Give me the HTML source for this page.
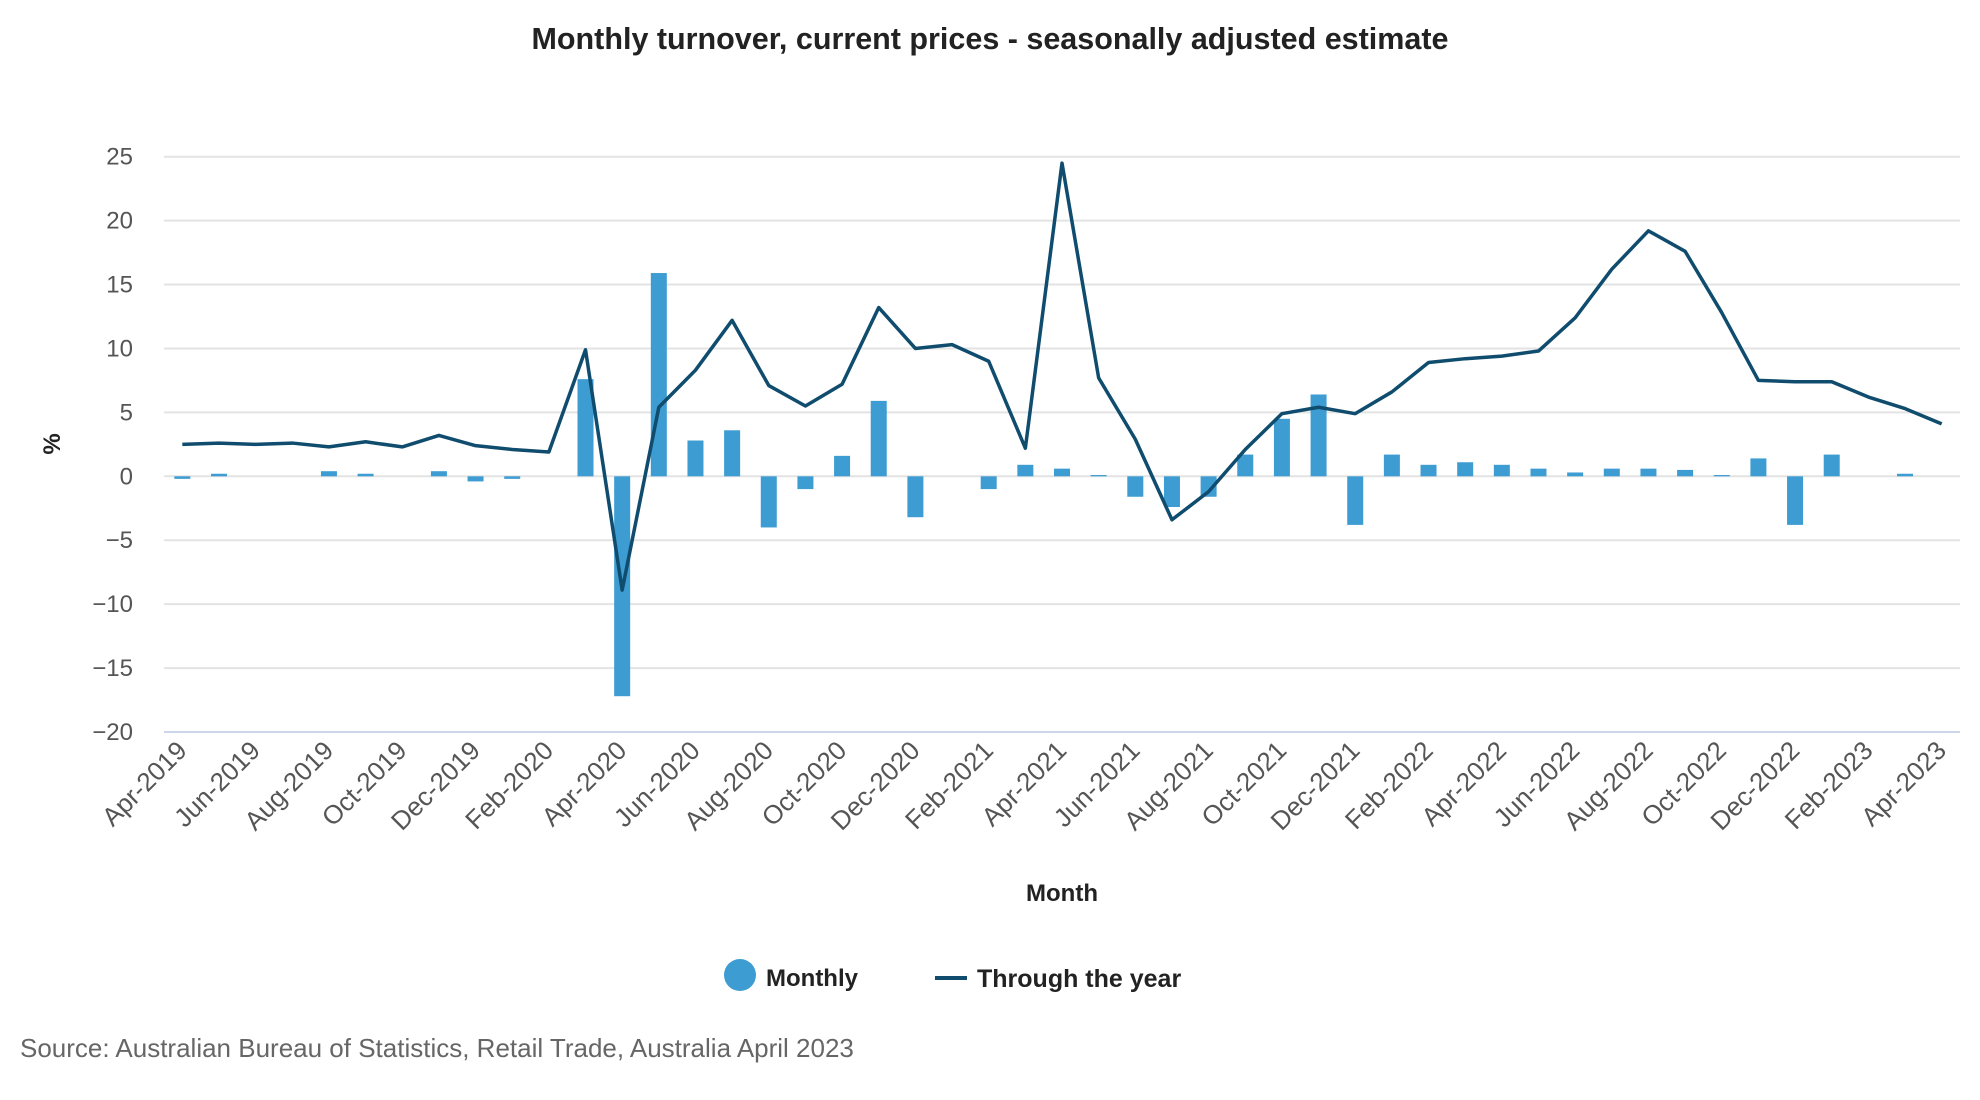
<!DOCTYPE html>
<html><head><meta charset="utf-8"><style>
body{margin:0;background:#fff;}
svg{display:block;font-family:"Liberation Sans",sans-serif;}
</style></head><body>
<svg id="chart" width="1980" height="1100" viewBox="0 0 1980 1100" xmlns="http://www.w3.org/2000/svg">
<text x="990" y="49" text-anchor="middle" font-size="30.5" font-weight="bold" fill="#222">Monthly turnover, current prices - seasonally adjusted estimate</text>
<g id="grid"></g><g id="bars"></g><g id="line"></g><g id="yticks"></g><g id="xticks"></g>
<text transform="translate(60,444) rotate(-90)" text-anchor="middle" font-size="24" font-weight="bold" fill="#222">%</text>
<text x="1062" y="901" text-anchor="middle" font-size="24" font-weight="bold" fill="#222">Month</text>
<g>
<g><circle cx="740" cy="975" r="16" fill="#3d9cd2"/><text x="766" y="986" font-size="24" font-weight="bold" fill="#222">Monthly</text></g>
<g><line x1="935" y1="978" x2="967" y2="978" stroke="#0f4c6e" stroke-width="4"/><text x="977" y="987" font-size="25" font-weight="bold" fill="#222">Through the year</text></g>
</g>
<text x="20" y="1057" font-size="26" fill="#666">Source: Australian Bureau of Statistics, Retail Trade, Australia April 2023</text>
</svg>
<script>
const categories=[];
for(let i=0;i<49;i++){const m=(3+i)%12;const y=2019+Math.floor((3+i)/12);categories.push(["Jan","Feb","Mar","Apr","May","Jun","Jul","Aug","Sep","Oct","Nov","Dec"][m]+"-"+y);}
const monthly=[-0.2,0.2,0,0,0.4,0.2,0,0.4,-0.4,-0.2,0,7.6,-17.2,15.9,2.8,3.6,-4.0,-1.0,1.6,5.9,-3.2,0,-1.0,0.9,0.6,0.1,-1.6,-2.4,-1.6,1.7,4.5,6.4,-3.8,1.7,0.9,1.1,0.9,0.6,0.3,0.6,0.6,0.5,0.1,1.4,-3.8,1.7,0,0.2,0];
const throughYear=[2.5,2.6,2.5,2.6,2.3,2.7,2.3,3.2,2.4,2.1,1.9,9.9,-8.9,5.4,8.3,12.2,7.1,5.5,7.2,13.2,10.0,10.3,9.0,2.2,24.5,7.7,2.9,-3.4,-1.2,2.1,4.9,5.4,4.9,6.6,8.9,9.2,9.4,9.8,12.4,16.2,19.2,17.6,12.8,7.5,7.4,7.4,6.2,5.3,4.1];
const yTicks=[25,20,15,10,5,0,-5,-10,-15,-20];
const NS="http://www.w3.org/2000/svg";
const L=164,R=1960,T=156.7,B=732,YMAX=25,YMIN=-20;
const band=(R-L)/categories.length;
const xs=i=>L+band*(i+0.5);
const ys=v=>T+(YMAX-v)*(B-T)/(YMAX-YMIN);
function mk(tag,attrs,parent){const e=document.createElementNS(NS,tag);for(const k in attrs)e.setAttribute(k,attrs[k]);document.getElementById(parent).appendChild(e);return e;}
yTicks.forEach(v=>{
  const g=mk("line",{x1:L,x2:R,y1:ys(v),y2:ys(v),stroke:v===YMIN?"#ccd6eb":"#e3e3e3","stroke-width":2},"grid");
  
  
  const t=mk("text",{x:133,y:ys(v)+8,"text-anchor":"end","font-size":24,fill:"#555"},"yticks");
  t.textContent=v<0?"\u2212"+Math.abs(v):String(v);
  
  
});
monthly.forEach((v,i)=>{
  const y0=ys(0),y1=ys(v);
  const r=mk("rect",{x:xs(i)-8,width:16,y:Math.min(y0,y1),height:Math.abs(y1-y0),fill:"#3d9cd2"},"bars");
  
  
});
const p=mk("polyline",{points:throughYear.map((v,i)=>xs(i)+","+ys(v)).join(" "),fill:"none",stroke:"#0f4c6e","stroke-width":3.5,"stroke-linejoin":"round"},"line");


categories.forEach((c,i)=>{
  if(i%2) return;
  const x=xs(i);
  const t=mk("text",{transform:"translate("+(x+6)+",752) rotate(-45)","text-anchor":"end","font-size":26,fill:"#555"},"xticks");
  t.textContent=c;
  
  
});
</script>
</body></html>
